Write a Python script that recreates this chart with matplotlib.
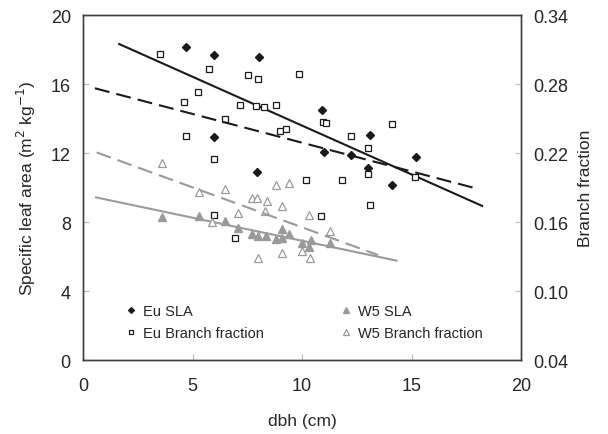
import numpy as np
import matplotlib.pyplot as plt

plt.rcParams['font.family'] = ['Liberation Sans', 'DejaVu Sans']

# ---------- data ----------
eu_sla_dbh = [4.69, 5.98, 8.02, 5.98, 7.92, 10.89, 13.09, 10.99, 12.24, 12.99, 15.18, 14.11]
eu_sla = [18.13, 17.70, 17.58, 12.91, 10.88, 14.48, 13.03, 12.04, 11.88, 11.11, 11.75, 10.17]

eu_bf_dbh = [3.49, 5.75, 7.51, 7.99, 5.25, 4.58, 7.16, 7.89, 8.26, 8.79, 6.46, 8.98,
             4.68, 5.95, 9.86, 9.26, 10.96, 11.07, 14.09, 12.23, 12.99, 12.99, 15.16,
             10.16, 11.84, 13.09, 10.84, 5.95, 6.94]
eu_bf = [0.306, 0.293, 0.288, 0.284, 0.273, 0.264, 0.262, 0.261, 0.260, 0.262, 0.250,
         0.239, 0.235, 0.215, 0.289, 0.241, 0.247, 0.246, 0.245, 0.235, 0.224, 0.202,
         0.199, 0.197, 0.197, 0.175, 0.165, 0.166, 0.146]

w5_sla_dbh = [3.61, 5.28, 6.47, 7.05, 7.72, 7.96, 8.33, 8.80, 9.10, 9.10, 9.41, 10.00,
              10.31, 10.39, 11.27]
w5_sla = [8.32, 8.37, 8.04, 7.64, 7.30, 7.21, 7.21, 7.01, 7.06, 7.59, 7.29, 6.78,
          6.58, 6.94, 6.77]

w5_bf_dbh = [3.61, 5.28, 6.47, 7.72, 7.92, 8.40, 8.30, 7.05, 5.89, 8.00, 8.80, 9.41,
             9.09, 10.31, 11.29, 9.09, 10.00, 10.38]
w5_bf = [0.211, 0.186, 0.189, 0.181, 0.181, 0.178, 0.170, 0.168, 0.160, 0.129, 0.192,
         0.194, 0.174, 0.166, 0.152, 0.133, 0.135, 0.129]

# trend lines: (intercept, slope, x from, x to)
eu_sla_trend = [19.25, -0.566, 1.64, 18.22]
eu_bf_trend = [0.279, -0.0050, 0.53, 18.04]
w5_sla_trend = [9.585, -0.267, 0.58, 14.31]
w5_bf_trend = [0.2248, -0.00694, 0.61, 13.47]

left_ticks = [0, 4, 8, 12, 16, 20]
right_ticks = [0.04, 0.10, 0.16, 0.22, 0.28, 0.34]
x_ticks = [0, 5, 10, 15, 20]

# ---------- styles ----------
dark = '#1a1a1a'
grey = '#9a9a9a'
spine_c = '#404040'
tick_c = '#bfbfbf'
text_c = '#262626'
dash = (7.2, 3.4)


def trend(t):
    xs = np.array([t[2], t[3]])
    return xs, t[0] + t[1] * xs


fig = plt.figure(figsize=(6.08, 4.35), dpi=100)
ax = fig.add_axes([0.137, 0.170, 0.720, 0.793])
ax2 = ax.twinx()

# SLA on the left axis
h1, = ax.plot(eu_sla_dbh, eu_sla, 'D', ms=4.2, color=dark, mec=dark, label='Eu SLA')
h3, = ax.plot(w5_sla_dbh, w5_sla, '^', ms=5.5, color=grey, mec=grey, label='W5 SLA')
ax.plot(*trend(eu_sla_trend), '-', color=dark, lw=1.5)
ax.plot(*trend(w5_sla_trend), '-', color=grey, lw=1.5)

# branch fraction on the right axis
h2, = ax2.plot(eu_bf_dbh, eu_bf, 's', ms=4.3, mfc='white', mec=dark, mew=0.9,
               label='Eu Branch fraction')
h4, = ax2.plot(w5_bf_dbh, w5_bf, '^', ms=5.5, mfc='white', mec=grey, mew=0.9,
               label='W5 Branch fraction')
ax2.plot(*trend(eu_bf_trend), color=dark, lw=1.5, dashes=dash)
ax2.plot(*trend(w5_bf_trend), color=grey, lw=1.5, dashes=dash)

ax.set_xlim(0, 20)
ax.set_ylim(0, 20)
ax2.set_ylim(0.04, 0.34)
ax.set_xticks(x_ticks)
ax.set_yticks(left_ticks)
ax2.set_yticks(right_ticks)
ax2.set_yticklabels([f'{v:.2f}' for v in right_ticks])

for a in (ax, ax2):
    for s in a.spines.values():
        s.set_color(spine_c)
        s.set_linewidth(1.0)
    a.tick_params(direction='in', length=4, width=0.8, color=tick_c,
                  labelsize=13, labelcolor=text_c, pad=9)
ax.tick_params(axis='x', pad=12)

ax.set_xlabel('dbh (cm)', fontsize=12.5, color=text_c, labelpad=14)
ax.set_ylabel('Specific leaf area (m$^{2}$ kg$^{-1}$)', fontsize=12.5,
              color=text_c, labelpad=9)
ax2.set_ylabel('Branch fraction', fontsize=12.5, color=text_c, labelpad=7)

leg = ax.legend([h1, h2, h3, h4], ['Eu SLA', 'Eu Branch fraction', 'W5 SLA',
                                   'W5 Branch fraction'],
                ncol=2, loc='lower left', bbox_to_anchor=(0.07, 0.02),
                frameon=False, fontsize=10.5, markerscale=0.7,
                handlelength=0.6, handletextpad=0.5, columnspacing=5.35,
                labelspacing=0.55)
for t in leg.get_texts():
    t.set_color(text_c)

fig.savefig('out.png', dpi=100)
